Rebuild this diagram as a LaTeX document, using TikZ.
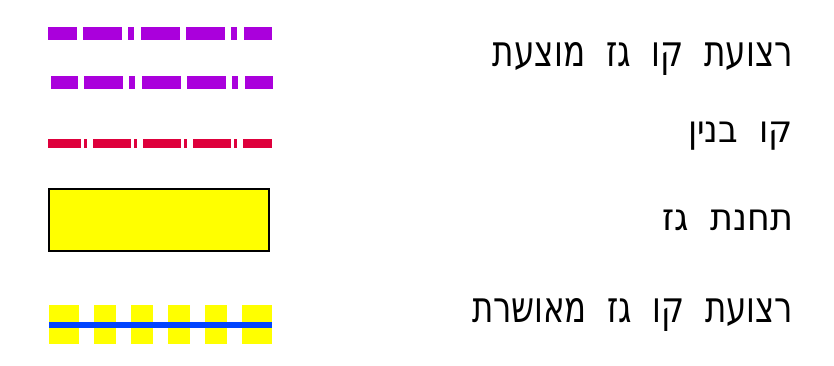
\documentclass[tikz,border=0pt]{standalone}
\usepackage{fontspec}
\usepackage{graphicx}
\TeXXeTstate=1
\newfontfamily\hebfont[Script=Hebrew,WordSpace=2]{DejaVu Sans}
\definecolor{propviolet}{RGB}{170,0,220}
\definecolor{bldred}{RGB}{222,0,60}
\definecolor{gasyellow}{RGB}{255,255,0}
\definecolor{gasblue}{RGB}{0,68,255}
\tikzset{
  proposed/.style={line width=13pt, propviolet, dash pattern=on 39pt off 6pt on 6pt off 7pt on 39pt off 6pt},
  buildline/.style={line width=9pt, bldred, dash pattern=on 38pt off 3pt on 3pt off 6pt},
  station/.style={draw=black, line width=2.5pt, fill=gasyellow},
  approvedline/.style={line width=6pt, gasblue},
  label/.style={anchor=base east, inner sep=0pt, outer sep=0pt, font=\hebfont\fontsize{40}{48}\selectfont}
}
\begin{document}
\begin{tikzpicture}[x=1pt,y=-1pt]
\useasboundingbox (0,0) rectangle (834,366);
% proposed gas strip
\coordinate (p1a) at (48,33.5);
\coordinate (p1b) at (272,33.5);
\coordinate (p2a) at (51,82.5);
\coordinate (p2b) at (273,82.5);
\draw[proposed, dash phase=68pt] (p1a) -- (p1b);
\draw[proposed, dash phase=70pt] (p2a) -- (p2b);
% building line
\coordinate (ba) at (48,143.5);
\coordinate (bb) at (272,143.5);
\draw[buildline, dash phase=5pt] (ba) -- (bb);
% gas station
\draw[station] (49,189) rectangle (269,251);
% approved gas strip
\foreach \a/\b in {49/79, 94/116, 131/153, 168/190, 205/227, 242/272}{
  \fill[gasyellow] (\a,305) rectangle (\b,344);
}
\coordinate (ga) at (49,325);
\coordinate (gb) at (272,325);
\draw[approvedline] (ga) -- (gb);
% labels
\node[label] (t1) at (793,67) {\resizebox{300pt}{24pt}{\beginR רצועת קו גז מוצעת\endR}};
\node[label] (t2) at (793,143) {\resizebox{105pt}{20.5pt}{\beginR קו בנין\endR}};
\node[label] (t3) at (793,230) {\resizebox{131pt}{20.5pt}{\beginR תחנת גז\endR}};
\node[label] (t4) at (793,322) {\resizebox{321pt}{24pt}{\beginR רצועת קו גז מאושרת\endR}};
\end{tikzpicture}
\end{document}
